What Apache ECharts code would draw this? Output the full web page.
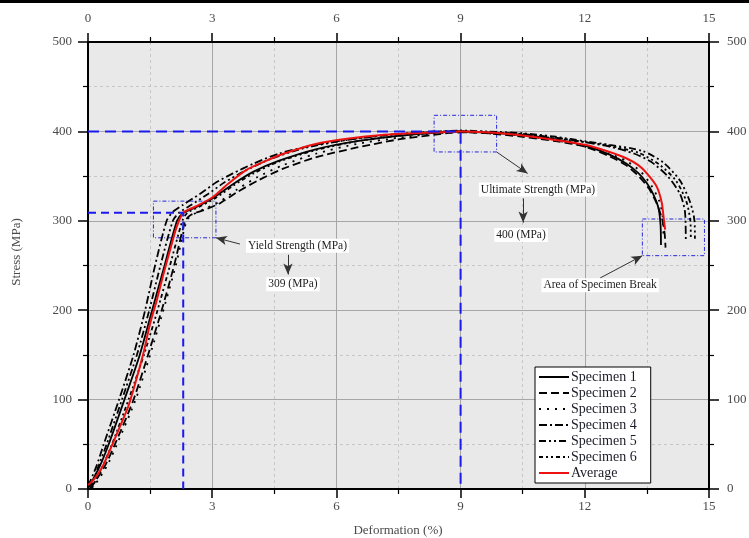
<!DOCTYPE html>
<html>
<head>
<meta charset="utf-8">
<script src="https://cdn.jsdelivr.net/npm/echarts@6/dist/echarts.min.js"></script>
<style>
  html, body { margin: 0; padding: 0; background: #fff; }
  #chart { width: 749px; height: 538px; }
</style>
</head>
<body>
<div id="chart"></div>
<script>
// Tensile test curves: deformation (%) vs stress (MPa)
const xTicks = [0, 3, 6, 9, 12, 15];
const yTicks = [0, 100, 200, 300, 400, 500];

const specimenNames = ['Specimen 1', 'Specimen 2', 'Specimen 3', 'Specimen 4', 'Specimen 5', 'Specimen 6'];
const averageName = 'Average';

const s1X = [0.02,0.28,0.50,0.88,1.25,1.55,1.85,2.15,2.28,2.6,3.0,3.5,4.0,4.6,5.5,6.5,7.5,8.5,9.0,9.5,10.5,11.3,12.0,12.6,13.0,13.3,13.5,13.65,13.78,13.83,13.84];
const s1Y = [2,25,50,100,150,200,250,300,308,315,325,341,355,367,380,389,395,399,400,399,396,391,384,374,364,353,342,330,314,295,273];

const s2X = [0.05,0.40,0.65,1.10,1.45,1.78,2.08,2.35,2.50,2.8,3.2,3.6,4.1,4.7,5.5,6.5,7.5,8.5,9.0,9.6,10.5,11.3,12.0,12.6,13.0,13.3,13.55,13.75,13.88,13.93,13.95];
const s2Y = [0,25,50,100,150,200,250,300,307,312,320,332,345,358,371,382,391,397,399,398,394,389,383,372,362,350,336,318,300,285,270];

const s3X = [0.10,0.45,0.70,1.15,1.50,1.82,2.12,2.38,2.50,2.8,3.2,3.6,4.1,4.7,5.5,6.5,7.5,8.5,9.0,9.6,10.5,11.3,12.0,12.6,13.0,13.35,13.6,13.8,13.88,13.90];
const s3Y = [0,25,50,100,150,200,250,300,306,313,322,335,349,362,375,386,393,398,399,398,395,390,383,375,367,355,340,322,305,280];

const s4X = [0.00,0.20,0.38,0.75,1.10,1.38,1.62,1.90,2.05,2.3,2.7,3.1,3.5,4.0,4.6,5.5,6.5,7.5,8.5,9.0,9.6,10.5,11.3,12.0,12.6,13.2,13.6,14.0,14.3,14.42,14.44];
const s4Y = [3,25,50,100,150,200,250,300,310,318,330,343,353,364,375,385,392,397,400,400,399,397,393,388,383,375,366,350,330,310,277];

const s5X = [0.05,0.25,0.45,0.82,1.18,1.48,1.75,2.05,2.2,2.5,2.9,3.3,3.8,4.4,5.2,6.2,7.2,8.2,9.0,9.6,10.5,11.3,12.0,12.6,13.4,13.9,14.3,14.55,14.65,14.66];
const s5Y = [0,25,50,100,150,200,250,300,309,318,330,343,356,369,381,390,396,399,401,400,398,394,389,385,378,365,345,320,300,280];

const s6X = [0.08,0.35,0.58,0.98,1.35,1.68,1.98,2.28,2.40,2.7,3.1,3.5,4.0,4.6,5.5,6.5,7.5,8.5,9.0,9.6,10.5,11.3,12.0,12.6,13.3,13.8,14.2,14.45,14.55,14.56];
const s6Y = [0,25,50,100,150,200,250,300,309,316,326,339,353,366,379,389,395,399,400,399,397,392,388,384,376,363,345,322,300,282];

const avgX = [0,0.13,0.35,0.53,0.77,0.97,1.14,1.34,1.50,1.66,1.82,1.98,2.14,2.30,2.6,3.0,3.4,3.83,4.3,4.72,5.5,6.3,7.1,7.9,8.5,9.0,9.6,10.4,11.2,12.0,12.6,13.0,13.3,13.5,13.74,13.86,13.91,13.94];
const avgY = [4.5,10,25,43.6,69.7,92,118,152,185,211,240,267,293,309,316,326,342,357,367,375,386,392,396,398,399,400,399,396,391,385,377,370,362,353,338,320,301,290];

// Key values
const yieldStrain = 2.3;
const yieldStress = 309;
const ultimateStrain = 9;
const ultimateStress = 400;

const yieldText = 'Yield Strength (MPa)';
const ultimateText = 'Ultimate Strength (MPa)';
const breakText = 'Area of Specimen Break';
const xTitle = 'Deformation (%)';
const yTitle = 'Stress (MPa)';

const pairs = (xs, ys) => xs.map((x, i) => [x, ys[i]]);
const specimenX = [s1X, s2X, s3X, s4X, s5X, s6X];
const specimenY = [s1Y, s2Y, s3Y, s4Y, s5Y, s6Y];
const dashTypes = ['solid', [8, 4], [2, 6], [8, 3, 2, 3], [7, 3, 2, 3, 2, 3], [4, 3, 2, 3, 2, 3]];

const serif = '"Liberation Serif", "Times New Roman", serif';
const labelColor = '#4a4a4a';

const chart = echarts.init(document.getElementById('chart'), null, { renderer: 'canvas' });

function axisX(position, labelMargin) {
  return {
    type: 'value', position: position, min: 0, max: 15, interval: 3,
    gridIndex: 0,
    axisLine: { show: true, onZero: false, lineStyle: { color: '#000', width: 2 } },
    axisTick: { show: true, inside: false, length: 9, lineStyle: { color: '#000', width: 1.5 } },
    minorTick: { show: true, splitNumber: 2, length: 5, lineStyle: { color: '#000', width: 1.2 } },
    axisLabel: { margin: labelMargin, fontFamily: serif, fontSize: 13, color: labelColor,
                 formatter: v => (xTicks.includes(v) ? String(v) : '') },
    splitLine: { show: position === 'bottom', lineStyle: { color: '#a6a6a6', width: 1 } },
    minorSplitLine: { show: position === 'bottom', lineStyle: { color: '#c6c6c6', width: 1, type: [3, 3] } }
  };
}
function axisY(position, labelMargin) {
  return {
    type: 'value', position: position, min: 0, max: 500, interval: 100,
    gridIndex: 0,
    axisLine: { show: true, onZero: false, lineStyle: { color: '#000', width: 2 } },
    axisTick: { show: true, inside: false, length: 10, lineStyle: { color: '#000', width: 1.5 } },
    minorTick: { show: true, splitNumber: 2, length: 5, lineStyle: { color: '#000', width: 1.2 } },
    axisLabel: { margin: labelMargin, fontFamily: serif, fontSize: 13, color: labelColor,
                 formatter: v => (yTicks.includes(v) ? String(v) : '') },
    splitLine: { show: position === 'left', lineStyle: { color: '#a6a6a6', width: 1 } },
    minorSplitLine: { show: position === 'left', lineStyle: { color: '#c6c6c6', width: 1, type: [3, 3] } }
  };
}

const xBottom = axisX('bottom', 11);
const xTop = axisX('top', 17);
const yLeft = axisY('left', 16);
const yRight = axisY('right', 18);

const series = specimenNames.map((name, i) => ({
  name: name,
  type: 'line',
  xAxisIndex: 0, yAxisIndex: 0,
  data: pairs(specimenX[i], specimenY[i]),
  showSymbol: false, symbol: 'none',
  smooth: 0.25,
  lineStyle: { color: '#000', width: 1.8, type: dashTypes[i] },
  itemStyle: { color: '#000' },
  z: 3
}));

series.push({
  name: averageName,
  type: 'line',
  xAxisIndex: 0, yAxisIndex: 0,
  data: pairs(avgX, avgY),
  showSymbol: false, symbol: 'none',
  smooth: 0.25,
  lineStyle: { color: '#ee1111', width: 2 },
  itemStyle: { color: '#ee1111' },
  z: 4
});

// Guide lines for yield and ultimate strength
const blue = '#1a1aee';
series.push({
  name: 'yieldGuide', type: 'line', xAxisIndex: 0, yAxisIndex: 0,
  data: [[0, yieldStress], [yieldStrain, yieldStress], [yieldStrain, 0]],
  showSymbol: false, symbol: 'none', silent: true,
  lineStyle: { color: blue, width: 2, type: [8, 5] }, z: 5
});
series.push({
  name: 'ultimateGuide', type: 'line', xAxisIndex: 0, yAxisIndex: 0,
  data: [[0, ultimateStress], [ultimateStrain, ultimateStress], [ultimateStrain, 0]],
  showSymbol: false, symbol: 'none', silent: true,
  lineStyle: { color: blue, width: 2, type: [11, 6] }, z: 5,
  markArea: {
    silent: true,
    label: { show: false },
    itemStyle: { color: 'rgba(0,0,0,0)', borderColor: '#2727dd', borderWidth: 1, borderType: [4, 2, 1, 2] },
    data: [
      [{ coord: [1.58, 322] }, { coord: [3.09, 281] }],
      [{ coord: [8.36, 418] }, { coord: [9.87, 377] }],
      [{ coord: [13.39, 302] }, { coord: [14.89, 261] }]
    ]
  },
  markLine: {
    silent: true,
    symbol: ['none', 'arrow'],
    symbolSize: [7, 11],
    label: { show: false },
    lineStyle: { color: '#333', width: 1, type: 'solid' },
    data: [
      [{ coord: [3.67, 274] }, { coord: [3.09, 281] }],
      [{ coord: [4.83, 262] }, { coord: [4.83, 240] }],
      [{ coord: [9.87, 377] }, { coord: [10.62, 353] }],
      [{ coord: [10.51, 325] }, { coord: [10.51, 298] }],
      [{ coord: [12.37, 236] }, { coord: [13.39, 261] }]
    ]
  }
});

chart.setOption({
  animation: false,
  backgroundColor: '#fff',
  grid: {
    left: 88, right: 40, top: 42, bottom: 49,
    containLabel: false, outerBoundsMode: 'none',
    show: true, backgroundColor: '#e9e9e9', borderWidth: 0
  },
  xAxis: [xBottom, xTop],
  yAxis: [yLeft, yRight],
  legend: {
    data: specimenNames.concat([averageName]),
    orient: 'vertical',
    left: 535, top: 367,
    itemWidth: 30, itemHeight: 12, itemGap: 2,
    padding: [3, 14, 3, 3],
    backgroundColor: '#fff', borderColor: '#000', borderWidth: 1, borderRadius: 0,
    itemStyle: { opacity: 0 },
    textStyle: { fontFamily: serif, fontSize: 14, lineHeight: 12, color: '#1c1c28', padding: [0, 0, 0, -3] },
    selectedMode: false
  },
  series: series
});

// Axis titles and text annotations
const notes = [
  { text: yieldText, at: [5.06, 272] },
  { text: yieldStress + ' (MPa)', at: [4.95, 229] },
  { text: ultimateText, at: [10.87, 335] },
  { text: ultimateStress + ' (MPa)', at: [10.46, 284] },
  { text: breakText, at: [12.37, 228] }
];
const graphics = [{
  type: 'rect', left: 0, top: 0, z: 100,
  shape: { width: 749, height: 3 },
  style: { fill: '#000' }
}, {
  type: 'text', x: 17, y: 252, rotation: Math.PI / 2, z: 50,
  style: { text: yTitle, font: '13px ' + serif, fill: labelColor, align: 'center', verticalAlign: 'middle' }
}, {
  type: 'text', x: 398, y: 531, z: 50,
  style: { text: xTitle, font: '13px ' + serif, fill: labelColor, align: 'center', verticalAlign: 'middle' }
}];
notes.forEach(n => {
  const p = chart.convertToPixel({ xAxisIndex: 0, yAxisIndex: 0 }, n.at);
  graphics.push({
    type: 'text', x: p[0], y: p[1], z: 50,
    style: {
      text: n.text, font: '11.5px ' + serif, fill: '#1e1e1e',
      align: 'center', verticalAlign: 'middle',
      backgroundColor: '#fff', padding: [1, 2]
    }
  });
});
chart.setOption({ graphic: graphics });
</script>
</body>
</html>
